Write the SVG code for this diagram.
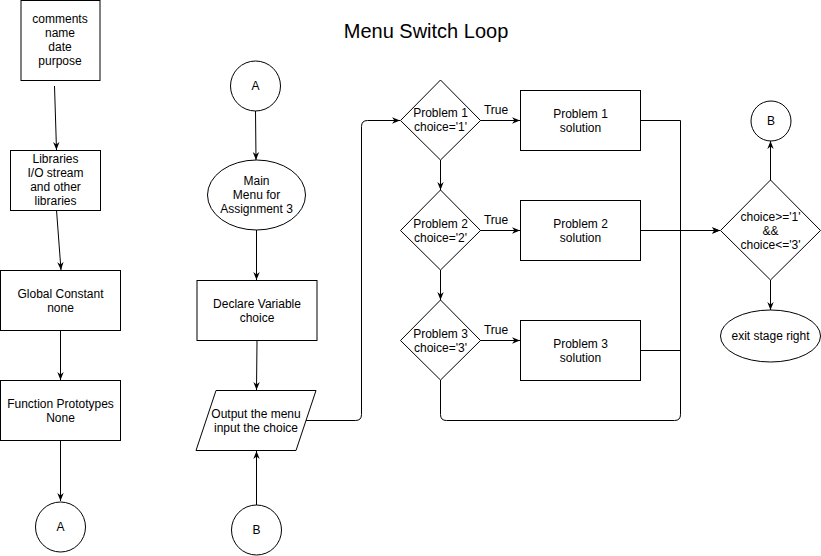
<svg xmlns="http://www.w3.org/2000/svg" width="821" height="556" viewBox="0 0 821 556">
<style>
.s{fill:#fff;stroke:#000;stroke-width:1}
.c{fill:none;stroke:#000;stroke-width:1}
text{font-family:"Liberation Sans",Arial,sans-serif;font-size:12px;fill:#000;stroke:none;text-anchor:middle}
.t{font-size:20px}
</style>
<defs>
<marker id="a" viewBox="0 0 10 10" refX="10" refY="5" markerWidth="8" markerHeight="8" markerUnits="userSpaceOnUse" orient="auto">
<path d="M0,1 L10,5 L0,9 L3,5 z" fill="#000" stroke="none"/>
</marker>
</defs>
<rect width="821" height="556" fill="#fff"/>
<text class="t" x="426" y="38">Menu Switch Loop</text>

<g id="connectors">
<path class="c" d="M54.5,86 L56.5,150" marker-end="url(#a)"/>
<path class="c" d="M56.5,210 L61,270" marker-end="url(#a)"/>
<path class="c" d="M60.5,331 L60.5,380" marker-end="url(#a)"/>
<path class="c" d="M60.5,441 L60.5,501" marker-end="url(#a)"/>
<path class="c" d="M255.5,111 L256,160" marker-end="url(#a)"/>
<path class="c" d="M256.5,230 L256.5,280" marker-end="url(#a)"/>
<path class="c" d="M257,341 L256.5,390" marker-end="url(#a)"/>
<path class="c" d="M256.5,505 L256.5,451" marker-end="url(#a)"/>
<path class="c" d="M306,420.5 L355.5,420.5 Q361.5,420.5 361.5,414.5 L361.5,126.5 Q361.5,120.5 367.5,120.5 L400,120.5" marker-end="url(#a)"/>
<path class="c" d="M440.5,160 L440.5,190" marker-end="url(#a)"/>
<path class="c" d="M440.5,270 L440.5,300" marker-end="url(#a)"/>
<path class="c" d="M480,120.5 L520,120.5" marker-end="url(#a)"/>
<path class="c" d="M480,230.5 L520,230.5" marker-end="url(#a)"/>
<path class="c" d="M480,340.5 L520,340.5" marker-end="url(#a)"/>
<path class="c" d="M641,120.5 L680.5,120.5 L680.5,230.5 L720,230.5" marker-end="url(#a)"/>
<path class="c" d="M641,230.5 L720,230.5" marker-end="url(#a)"/>
<path class="c" d="M641,350.5 L680.5,350.5 L680.5,230.5"/>
<path class="c" d="M440.5,380 L440.5,414.5 Q440.5,420.5 446.5,420.5 L674.5,420.5 Q680.5,420.5 680.5,414.5 L680.5,230.5"/>
<path class="c" d="M770.5,180 L770.5,141" marker-end="url(#a)"/>
<path class="c" d="M770.5,280 L770.5,310" marker-end="url(#a)"/>
<text x="496" y="114">True</text>
<text x="496" y="224">True</text>
<text x="496" y="334">True</text>
</g>

<g id="comments">
<rect class="s" x="21" y="0.5" width="79" height="80"/>
<text x="60" y="23">comments</text>
<text x="60" y="37">name</text>
<text x="60" y="51">date</text>
<text x="60" y="65">purpose</text>
</g>
<g id="libraries">
<rect class="s" x="10.5" y="150.5" width="90" height="60"/>
<text x="55.5" y="163">Libraries</text>
<text x="55.5" y="177">I/O stream</text>
<text x="55.5" y="191">and other</text>
<text x="55.5" y="205">libraries</text>
</g>
<g id="global">
<rect class="s" x="0.5" y="270.5" width="120" height="60"/>
<text x="60.5" y="298">Global Constant</text>
<text x="60.5" y="312">none</text>
</g>
<g id="prototypes">
<rect class="s" x="0.5" y="380.5" width="120" height="60"/>
<text x="60.5" y="408">Function Prototypes</text>
<text x="60.5" y="422">None</text>
</g>
<g id="connA1">
<circle class="s" cx="60.5" cy="527" r="25"/>
<text x="60.5" y="531">A</text>
</g>

<g id="connA2">
<circle class="s" cx="255.5" cy="86" r="25"/>
<text x="255.5" y="90">A</text>
</g>
<g id="mainmenu">
<ellipse class="s" cx="256.5" cy="195" rx="49" ry="35"/>
<text x="256.5" y="185">Main</text>
<text x="256.5" y="199">Menu for</text>
<text x="256.5" y="213">Assignment 3</text>
</g>
<g id="declare">
<rect class="s" x="197" y="280.5" width="120" height="60"/>
<text x="257" y="308">Declare Variable</text>
<text x="257" y="322">choice</text>
</g>
<g id="output">
<polygon class="s" points="216,390.5 316,390.5 296,450.5 196,450.5"/>
<text x="256" y="418">Output the menu</text>
<text x="256" y="432">input the choice</text>
</g>
<g id="connB1">
<circle class="s" cx="256.5" cy="530" r="25"/>
<text x="256.5" y="534">B</text>
</g>

<g id="d1">
<polygon class="s" points="440.5,80 480.5,120.5 440.5,160 400.5,120.5"/>
<text x="440.5" y="117">Problem 1</text>
<text x="440.5" y="131">choice='1'</text>
</g>
<g id="d2">
<polygon class="s" points="440.5,190 480.5,230.5 440.5,270 400.5,230.5"/>
<text x="440.5" y="228">Problem 2</text>
<text x="440.5" y="242">choice='2'</text>
</g>
<g id="d3">
<polygon class="s" points="440.5,300 480.5,340.5 440.5,380 400.5,340.5"/>
<text x="440.5" y="338">Problem 3</text>
<text x="440.5" y="352">choice='3'</text>
</g>
<g id="p1">
<rect class="s" x="520.5" y="90.5" width="120" height="60"/>
<text x="580.5" y="118">Problem 1</text>
<text x="580.5" y="132">solution</text>
</g>
<g id="p2">
<rect class="s" x="520.5" y="200.5" width="120" height="60"/>
<text x="580.5" y="228">Problem 2</text>
<text x="580.5" y="242">solution</text>
</g>
<g id="p3">
<rect class="s" x="520.5" y="320.5" width="120" height="60"/>
<text x="580.5" y="348">Problem 3</text>
<text x="580.5" y="362">solution</text>
</g>

<g id="decision">
<polygon class="s" points="770.5,180 820.5,230.5 770.5,280 720.5,230.5"/>
<text x="770.5" y="221">choice&gt;='1'</text>
<text x="770.5" y="235">&amp;&amp;</text>
<text x="770.5" y="249">choice&lt;='3'</text>
</g>
<g id="connB2">
<circle class="s" cx="771" cy="121" r="20"/>
<text x="771" y="125">B</text>
</g>
<g id="exit">
<ellipse class="s" cx="770.5" cy="336" rx="50" ry="26"/>
<text x="770.5" y="340">exit stage right</text>
</g>
</svg>
